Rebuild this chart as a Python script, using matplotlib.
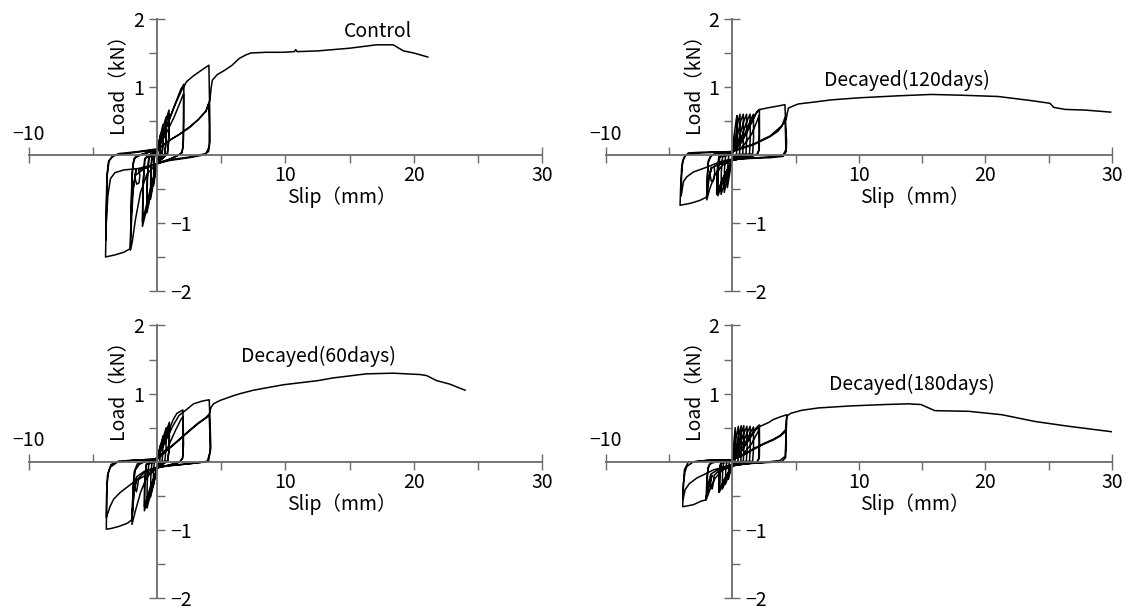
import matplotlib
matplotlib.use("Agg")
import matplotlib.pyplot as plt
from matplotlib.ticker import FixedLocator, FixedFormatter

plt.rcParams["font.family"] = ["Noto Sans CJK JP", "DejaVu Sans"]
plt.rcParams["font.size"] = 14

# slip (mm), load (kN) traces for each specimen
CONTROL_CURVE = [
    (0, 0),
    (0.12, 0.17), (0.25, 0.3), (0.24, 0.12), (0.2, 0.01), (0, -0.06), (-0.14, -0.25), (-0.28, -0.45),
    (-0.27, -0.18), (-0.22, -0.02), (0, 0.05),
    (0.13, 0.16), (0.25, 0.27), (0.24, 0.1), (0.19, 0.0), (0, -0.07), (-0.15, -0.24), (-0.28, -0.41),
    (-0.27, -0.15), (-0.21, -0.02), (0, 0.05),
    (0.22, 0.26), (0.45, 0.45), (0.44, 0.18), (0.38, 0.01), (0, -0.08), (-0.25, -0.36), (-0.52, -0.65),
    (-0.5, -0.28), (-0.42, -0.03), (0, 0.06),
    (0.23, 0.24), (0.45, 0.4), (0.44, 0.15), (0.37, 0.0), (0, -0.09), (-0.26, -0.34), (-0.52, -0.6),
    (-0.5, -0.25), (-0.41, -0.03), (0, 0.06),
    (0.33, 0.32), (0.7, 0.56), (0.68, 0.22), (0.6, 0.02), (0, -0.1), (-0.4, -0.48), (-0.8, -0.85),
    (-0.77, -0.38), (-0.66, -0.04), (0, 0.07),
    (0.35, 0.3), (0.7, 0.5), (0.68, 0.18), (0.58, 0.01), (0, -0.11), (-0.42, -0.45), (-0.8, -0.78),
    (-0.77, -0.33), (-0.65, -0.04), (0, 0.07),
    (0.45, 0.38), (0.92, 0.66), (0.9, 0.26), (0.8, 0.02), (0, -0.12), (-0.55, -0.58), (-1.15, -1.05),
    (-1.12, -0.5), (-0.98, -0.06), (0, 0.08),
    (0.48, 0.35), (0.92, 0.6), (0.9, 0.2), (0.78, 0.01), (0, -0.12), (-0.6, -0.55), (-1.15, -0.98),
    (-1.1, -0.42), (-0.96, -0.05), (0, 0.08),
    (0.5, 0.3), (1.0, 0.55), (1.5, 0.8), (1.85, 0.97), (2.08, 1.04), (2.06, 0.65), (2.04, 0.2),
    (1.95, 0.05), (1.7, 0.0), (1.0, -0.06), (0, -0.12), (-0.8, -0.28), (-1.3, -0.55), (-1.7, -0.95),
    (-1.95, -1.28), (-2.08, -1.4), (-2.04, -0.95), (-1.98, -0.4), (-1.88, -0.12), (-1.7, -0.03),
    (-1.2, 0.01), (0, 0.08),
    (0.6, 0.28), (1.3, 0.55), (1.8, 0.78), (2.05, 0.9), (2.06, 0.5), (2.02, 0.12), (1.9, 0.02),
    (1.0, -0.06), (0, -0.13), (-1.0, -0.2), (-1.45, -0.22), (-1.35, -0.3), (-1.42, -0.41),
    (-1.6, -0.43), (-1.75, -0.33), (-1.65, -0.22), (-1.85, -0.45), (-1.98, -0.85), (-2.05, -1.2),
    (-2.02, -0.7), (-1.95, -0.25), (-1.8, -0.05), (-1.3, 0.0), (0, 0.08),
    (0.6, 0.35), (1.3, 0.7), (1.9, 0.95), (2.3, 1.08), (2.8, 1.16), (3.4, 1.24), (4.03, 1.32),
    (4.06, 1.0), (4.1, 0.55), (4.12, 0.2), (4.0, 0.05), (3.6, 0.0), (2.5, -0.04), (1.0, -0.08),
    (0, -0.12), (-1.0, -0.2), (-1.7, -0.3), (-1.95, -0.6), (-2.05, -1.0), (-2.12, -1.38),
    (-2.6, -1.43), (-3.3, -1.47), (-4.03, -1.5), (-4.0, -1.2), (-3.97, -0.7), (-3.92, -0.3),
    (-3.8, -0.1), (-3.5, -0.02), (-3.0, 0.02), (-1.5, 0.05), (0, 0.09),
    (1.0, 0.22), (1.7, 0.3), (2.5, 0.4), (3.2, 0.52), (3.8, 0.64), (4.0, 0.75), (4.06, 0.45),
    (4.05, 0.12), (3.8, 0.02), (2.5, -0.03), (1.0, -0.07), (0, -0.13), (-1.5, -0.2), (-2.6, -0.22),
    (-3.3, -0.26), (-3.65, -0.35), (-3.85, -0.6), (-3.97, -1.0), (-4.0, -1.25), (-3.96, -0.8),
    (-3.9, -0.3), (-3.75, -0.08), (-3.4, -0.01), (-2.0, 0.03), (0, 0.08),
    (1.0, 0.22), (1.7, 0.3), (2.5, 0.41), (3.2, 0.52), (3.8, 0.65), (4.1, 0.8), (4.2, 0.98),
    (4.3, 1.1), (4.67, 1.18), (5.3, 1.25), (5.84, 1.32), (6.4, 1.42), (6.9, 1.47), (7.3, 1.5),
    (8.5, 1.51), (9.8, 1.51), (10.7, 1.52), (10.8, 1.55), (10.9, 1.52), (12.5, 1.53), (15.0, 1.57),
    (17.1, 1.62), (18.4, 1.62), (19.2, 1.53), (20.0, 1.5), (21.1, 1.44),
]

DECAY120_CURVE = [
    (0, 0),
    (0.1, 0.25), (0.3, 0.52), (0.36, 0.58), (0.36, 0.25), (0.33, 0.02), (0, -0.04), (-0.2, -0.25),
    (-0.4, -0.48), (-0.38, -0.2), (-0.3, -0.02), (0, 0.03),
    (0.2, 0.22), (0.45, 0.5), (0.6, 0.6), (0.61, 0.25), (0.57, 0.02), (0, -0.05), (-0.35, -0.3),
    (-0.65, -0.55), (-0.63, -0.22), (-0.55, -0.02), (0, 0.03),
    (0.3, 0.2), (0.65, 0.5), (0.86, 0.6), (0.87, 0.25), (0.82, 0.02), (0, -0.06), (-0.5, -0.33),
    (-0.9, -0.58), (-0.88, -0.25), (-0.78, -0.03), (0, 0.04),
    (0.45, 0.2), (0.9, 0.5), (1.12, 0.6), (1.13, 0.25), (1.07, 0.02), (0, -0.06), (-0.65, -0.35),
    (-1.15, -0.6), (-1.13, -0.27), (-1.0, -0.03), (0, 0.04),
    (0.6, 0.2), (1.15, 0.5), (1.4, 0.6), (1.41, 0.25), (1.35, 0.02), (0, -0.07), (-0.7, -0.33),
    (-1.2, -0.56), (-1.18, -0.25), (-1.05, -0.03), (0, 0.04),
    (0.8, 0.22), (1.4, 0.5), (1.66, 0.6), (1.67, 0.25), (1.6, 0.02), (0, -0.07), (-0.75, -0.34),
    (-1.25, -0.58), (-1.22, -0.25), (-1.08, -0.03), (0, 0.04),
    (0.6, 0.15), (1.2, 0.35), (1.7, 0.55), (1.95, 0.64), (2.13, 0.67), (2.14, 0.35), (2.12, 0.1),
    (2.0, 0.01), (1.0, -0.04), (0, -0.08), (-0.8, -0.15), (-1.4, -0.3), (-1.8, -0.5), (-2.03, -0.66),
    (-2.0, -0.4), (-1.92, -0.12), (-1.75, -0.02), (-1.4, 0.02), (0, 0.05),
    (0.8, 0.12), (1.5, 0.3), (1.95, 0.5), (2.1, 0.58), (2.12, 0.3), (2.08, 0.06), (1.9, 0.0),
    (0, -0.08), (-1.0, -0.14), (-1.45, -0.17), (-1.4, -0.26), (-1.5, -0.38), (-1.68, -0.38),
    (-1.78, -0.28), (-1.65, -0.18), (-1.85, -0.35), (-2.0, -0.58), (-1.98, -0.3), (-1.9, -0.08),
    (-1.6, 0.0), (0, 0.05),
    (0.7, 0.2), (1.4, 0.45), (1.9, 0.62), (2.2, 0.67), (3.0, 0.7), (3.6, 0.72), (4.15, 0.74),
    (4.2, 0.5), (4.28, 0.2), (4.25, 0.05), (4.0, -0.02), (3.0, -0.04), (1.5, -0.05), (0, -0.07),
    (-1.0, -0.12), (-1.7, -0.2), (-1.95, -0.4), (-2.05, -0.62), (-2.6, -0.67), (-3.3, -0.71),
    (-4.14, -0.74), (-4.1, -0.5), (-4.02, -0.2), (-3.85, -0.04), (-3.48, 0.03), (-2.5, 0.04),
    (0, 0.05),
    (0.34, 0.07), (1.66, 0.15), (2.98, 0.27), (3.6, 0.35), (3.9, 0.42), (4.15, 0.55), (4.2, 0.3),
    (4.22, 0.08), (4.0, -0.01), (2.0, -0.04), (0, -0.06), (-0.97, -0.1), (-2.03, -0.18),
    (-3.08, -0.25), (-3.6, -0.32), (-3.87, -0.39), (-4.05, -0.6), (-4.03, -0.35), (-3.95, -0.1),
    (-3.7, 0.0), (-2.5, 0.03), (0, 0.05),
    (0.34, 0.08), (1.66, 0.16), (2.98, 0.28), (3.9, 0.43), (4.24, 0.52), (4.35, 0.63), (4.43, 0.69),
    (4.8, 0.72), (5.2, 0.75), (6.55, 0.78), (7.8, 0.81), (9.96, 0.84), (13.1, 0.87), (15.7, 0.89),
    (17.9, 0.88), (21.0, 0.86), (23.6, 0.8), (25.1, 0.76), (25.4, 0.7), (26.3, 0.67), (27.9, 0.66),
    (29.9, 0.63),
]

DECAY60_CURVE = [
    (0, 0),
    (0.12, 0.14), (0.25, 0.25), (0.24, 0.1), (0.2, 0.01), (0, -0.05), (-0.14, -0.2), (-0.3, -0.35),
    (-0.29, -0.14), (-0.23, -0.02), (0, 0.04),
    (0.22, 0.2), (0.45, 0.38), (0.44, 0.15), (0.38, 0.01), (0, -0.06), (-0.25, -0.3), (-0.52, -0.52),
    (-0.5, -0.22), (-0.42, -0.03), (0, 0.05),
    (0.33, 0.27), (0.7, 0.5), (0.69, 0.2), (0.6, 0.02), (0, -0.08), (-0.38, -0.38), (-0.8, -0.68),
    (-0.78, -0.3), (-0.66, -0.04), (0, 0.05),
    (0.45, 0.32), (0.95, 0.58), (0.94, 0.22), (0.83, 0.02), (0, -0.09), (-0.5, -0.4), (-1.0, -0.72),
    (-0.98, -0.32), (-0.85, -0.04), (0, 0.06),
    (0.5, 0.3), (0.95, 0.52), (0.93, 0.18), (0.8, 0.01), (0, -0.1), (-0.55, -0.38), (-1.0, -0.66),
    (-0.97, -0.28), (-0.84, -0.04), (0, 0.06),
    (0.5, 0.25), (0.88, 0.45), (1.25, 0.62), (1.53, 0.71), (2.0, 0.76), (2.03, 0.5), (2.05, 0.25),
    (1.98, 0.06), (1.8, 0.0), (1.0, -0.05), (0, -0.09), (-0.8, -0.22), (-1.3, -0.45), (-1.7, -0.72),
    (-1.97, -0.92), (-1.92, -0.6), (-1.84, -0.3), (-1.7, -0.12), (-1.4, -0.04), (-1.0, 0.0),
    (0, 0.05),
    (0.8, 0.2), (1.4, 0.45), (1.85, 0.62), (2.0, 0.66), (2.03, 0.35), (1.98, 0.05), (1.7, -0.01),
    (0, -0.09), (-1.0, -0.16), (-1.45, -0.24), (-1.52, -0.34), (-1.62, -0.44), (-1.74, -0.38),
    (-1.72, -0.26), (-1.6, -0.24), (-1.8, -0.45), (-1.95, -0.8), (-1.9, -0.45), (-1.8, -0.15),
    (-1.55, -0.03), (0, 0.05),
    (0.6, 0.28), (1.2, 0.52), (1.7, 0.68), (2.18, 0.75), (2.83, 0.85), (3.5, 0.89), (4.05, 0.91),
    (4.1, 0.7), (4.15, 0.4), (4.18, 0.2), (4.0, 0.01), (3.35, -0.01), (2.0, -0.04), (0, -0.08),
    (-1.0, -0.14), (-1.6, -0.22), (-1.85, -0.5), (-1.98, -0.85), (-2.3, -0.9), (-3.0, -0.95),
    (-3.6, -0.98), (-3.97, -0.99), (-3.95, -0.7), (-3.92, -0.35), (-3.8, -0.15), (-3.66, -0.08),
    (-3.14, -0.01), (-2.0, 0.02), (0, 0.04),
    (0.8, 0.17), (1.6, 0.3), (2.5, 0.45), (3.2, 0.56), (3.8, 0.64), (4.05, 0.68), (4.1, 0.45),
    (4.12, 0.15), (3.9, 0.0), (2.5, -0.03), (0, -0.07), (-0.55, -0.16), (-1.84, -0.3),
    (-2.88, -0.45), (-3.4, -0.55), (-3.66, -0.65), (-3.97, -0.82), (-3.95, -0.5), (-3.88, -0.2),
    (-3.6, -0.04), (-3.0, 0.01), (0, 0.04),
    (0.8, 0.18), (1.6, 0.31), (2.5, 0.46), (3.2, 0.57), (3.8, 0.65), (4.05, 0.7), (4.2, 0.8),
    (4.39, 0.85), (4.9, 0.9), (5.95, 0.97), (6.47, 1.0), (7.5, 1.05), (9.83, 1.13), (12.5, 1.19),
    (13.7, 1.23), (16.3, 1.29), (18.4, 1.3), (20.5, 1.28), (21.0, 1.265), (21.8, 1.19),
    (22.8, 1.14), (24.0, 1.05),
]

DECAY180_CURVE = [
    (0, 0),
    (0.08, 0.22), (0.2, 0.45), (0.22, 0.5), (0.22, 0.2), (0.2, 0.01), (0, -0.03), (-0.18, -0.15),
    (-0.32, -0.26), (-0.3, -0.1), (-0.24, -0.01), (0, 0.03),
    (0.15, 0.18), (0.35, 0.42), (0.47, 0.52), (0.48, 0.2), (0.44, 0.01), (0, -0.04), (-0.3, -0.2),
    (-0.55, -0.33), (-0.53, -0.12), (-0.46, -0.02), (0, 0.03),
    (0.25, 0.18), (0.55, 0.43), (0.7, 0.53), (0.71, 0.2), (0.67, 0.01), (0, -0.05), (-0.45, -0.25),
    (-0.8, -0.4), (-0.78, -0.15), (-0.7, -0.02), (0, 0.03),
    (0.35, 0.18), (0.72, 0.43), (0.9, 0.53), (0.91, 0.2), (0.86, 0.01), (0, -0.05), (-0.6, -0.28),
    (-1.05, -0.45), (-1.03, -0.18), (-0.92, -0.02), (0, 0.03),
    (0.45, 0.18), (0.9, 0.42), (1.15, 0.52), (1.16, 0.2), (1.1, 0.01), (0, -0.05), (-0.6, -0.26),
    (-1.0, -0.42), (-0.98, -0.15), (-0.88, -0.02), (0, 0.03),
    (0.6, 0.18), (1.15, 0.42), (1.4, 0.52), (1.41, 0.2), (1.35, 0.01), (0, -0.06), (-0.65, -0.27),
    (-1.05, -0.43), (-1.03, -0.15), (-0.9, -0.02), (0, 0.03),
    (0.75, 0.18), (1.4, 0.42), (1.66, 0.51), (1.67, 0.2), (1.6, 0.01), (0, -0.06), (-0.7, -0.28),
    (-1.08, -0.44), (-1.05, -0.15), (-0.93, -0.02), (0, 0.03),
    (0.6, 0.12), (1.2, 0.3), (1.7, 0.46), (2.0, 0.52), (2.13, 0.54), (2.14, 0.3), (2.13, 0.08),
    (2.0, 0.0), (1.0, -0.03), (0, -0.06), (-0.8, -0.12), (-1.4, -0.25), (-1.8, -0.42),
    (-2.08, -0.56), (-2.04, -0.35), (-1.98, -0.17), (-1.85, -0.05), (-1.63, -0.02), (-1.0, 0.01),
    (0, 0.03),
    (0.8, 0.1), (1.5, 0.26), (1.95, 0.42), (2.1, 0.47), (2.12, 0.25), (2.08, 0.04), (1.9, -0.01),
    (0, -0.06), (-1.0, -0.12), (-1.45, -0.2), (-1.5, -0.3), (-1.6, -0.4), (-1.72, -0.35),
    (-1.72, -0.24), (-1.6, -0.2), (-1.82, -0.35), (-2.02, -0.5), (-2.0, -0.28), (-1.92, -0.08),
    (-1.7, -0.01), (0, 0.03),
    (0.6, 0.14), (1.3, 0.32), (1.8, 0.46), (2.19, 0.52), (2.8, 0.57), (3.24, 0.62), (3.8, 0.66),
    (4.3, 0.69), (4.28, 0.55), (4.24, 0.42), (4.2, 0.2), (4.16, 0.08), (3.77, 0.02), (2.5, -0.01),
    (1.0, -0.03), (0, -0.05), (-1.0, -0.1), (-1.7, -0.18), (-1.95, -0.35), (-2.1, -0.56),
    (-2.5, -0.58), (-3.08, -0.63), (-3.6, -0.65), (-3.93, -0.66), (-3.9, -0.5), (-3.87, -0.31),
    (-3.75, -0.15), (-3.61, -0.07), (-3.08, 0.0), (-2.0, 0.02), (0, 0.03),
    (0.8, 0.09), (1.66, 0.18), (2.5, 0.26), (3.24, 0.32), (3.8, 0.38), (4.24, 0.45), (4.26, 0.25),
    (4.2, 0.06), (3.9, 0.0), (2.0, -0.02), (0, -0.04), (-1.5, -0.12), (-2.82, -0.24),
    (-3.4, -0.32), (-3.74, -0.41), (-3.9, -0.55), (-3.88, -0.35), (-3.8, -0.12), (-3.5, -0.01),
    (-2.0, 0.02), (0, 0.03),
    (0.8, 0.1), (1.66, 0.19), (2.5, 0.27), (3.24, 0.33), (3.8, 0.39), (4.2, 0.47), (4.25, 0.6),
    (4.3, 0.67), (4.6, 0.71), (5.47, 0.755), (6.8, 0.79), (9.4, 0.82), (12.07, 0.84), (13.9, 0.85),
    (14.9, 0.84), (16.0, 0.75), (18.7, 0.74), (21.3, 0.69), (23.95, 0.59), (26.6, 0.52),
    (30.0, 0.44),
]

TITLES = ["Control", "Decayed(120days)", "Decayed(60days)", "Decayed(180days)"]
TITLE_POS = [(17.2, 1.81), (13.8, 1.1), (12.6, 1.54), (14.2, 1.13)]

X_TICKS_DOWN = [-10, 5, 10, 15, 20, 25, 30]
X_LABELS_DOWN = ["", "", "10", "", "20", "", "30"]
X_TICKS_UP = [-10, -5, 30]
X_LABELS_UP = ["\u221210", "", ""]
Y_TICKS_LEFT = [-2, 0.5, 1, 1.5, 2]
Y_LABELS_LEFT = ["", "", "1", "", "2"]
Y_TICKS_RIGHT = [-2, -1.5, -1, -0.5, 2]
Y_LABELS_RIGHT = ["\u22122", "", "\u22121", "", ""]

AXIS_GREY = "#6a6a6a"


def draw_panel(ax, curve, title, title_xy):
    slip = [p[0] for p in curve]
    load = [p[1] for p in curve]
    ax.plot(slip, load, color="black", lw=1.1, solid_joinstyle="round")
    ax.set_xlim(-10, 30)
    ax.set_ylim(-2, 2)
    ax.patch.set_visible(False)

    # all four spines sit on the origin; only bottom/left are drawn
    for name in ["left", "right", "top", "bottom"]:
        ax.spines[name].set_position(("data", 0))
        ax.spines[name].set_color(AXIS_GREY)
        ax.spines[name].set_linewidth(1.3)
    ax.spines["top"].set_visible(False)
    ax.spines["right"].set_visible(False)

    ax.xaxis.remove_overlapping_locs = False
    ax.yaxis.remove_overlapping_locs = False
    ax.xaxis.set_major_locator(FixedLocator(X_TICKS_DOWN))
    ax.xaxis.set_major_formatter(FixedFormatter(X_LABELS_DOWN))
    ax.xaxis.set_minor_locator(FixedLocator(X_TICKS_UP))
    ax.xaxis.set_minor_formatter(FixedFormatter(X_LABELS_UP))
    ax.yaxis.set_major_locator(FixedLocator(Y_TICKS_LEFT))
    ax.yaxis.set_major_formatter(FixedFormatter(Y_LABELS_LEFT))
    ax.yaxis.set_minor_locator(FixedLocator(Y_TICKS_RIGHT))
    ax.yaxis.set_minor_formatter(FixedFormatter(Y_LABELS_RIGHT))

    common = dict(direction="out", length=5.5, width=1.0, color=AXIS_GREY,
                  labelcolor="black", labelsize=14)
    ax.tick_params(axis="x", which="major", bottom=True, top=False,
                   labelbottom=True, labeltop=False, pad=2.0, **common)
    ax.tick_params(axis="x", which="minor", bottom=False, top=True,
                   labelbottom=False, labeltop=True, pad=2.0, **common)
    ax.tick_params(axis="y", which="major", left=True, right=False,
                   labelleft=True, labelright=False, pad=4.0, **common)
    ax.tick_params(axis="y", which="minor", left=False, right=True,
                   labelleft=False, labelright=True, pad=4.0, **common)
    for t in ax.get_xticklabels(which="both") + ax.get_yticklabels(which="both"):
        t.set_clip_on(False)

    ax.text(-3.1, 1.13, "Load\uff08kN\uff09", rotation=90, ha="center", va="center", fontsize=14)
    ax.text(14.4, -0.62, "Slip\uff08mm\uff09", ha="center", va="center", fontsize=14)
    ax.text(title_xy[0], title_xy[1], title, ha="center", va="center", fontsize=14)


fig = plt.figure(figsize=(11.36, 6.10), dpi=100)
fig.patch.set_facecolor("white")

# [left, bottom, width, height] in figure fraction
positions = [
    [0.0255, 0.5230, 0.4516, 0.4459],
    [0.5334, 0.5230, 0.4454, 0.4459],
    [0.0255, 0.0197, 0.4516, 0.4467],
    [0.5334, 0.0197, 0.4454, 0.4467],
]
curves = [CONTROL_CURVE, DECAY120_CURVE, DECAY60_CURVE, DECAY180_CURVE]

for pos, curve, title, txy in zip(positions, curves, TITLES, TITLE_POS):
    ax = fig.add_axes(pos)
    draw_panel(ax, curve, title, txy)

fig.savefig("out.png", dpi=100)
